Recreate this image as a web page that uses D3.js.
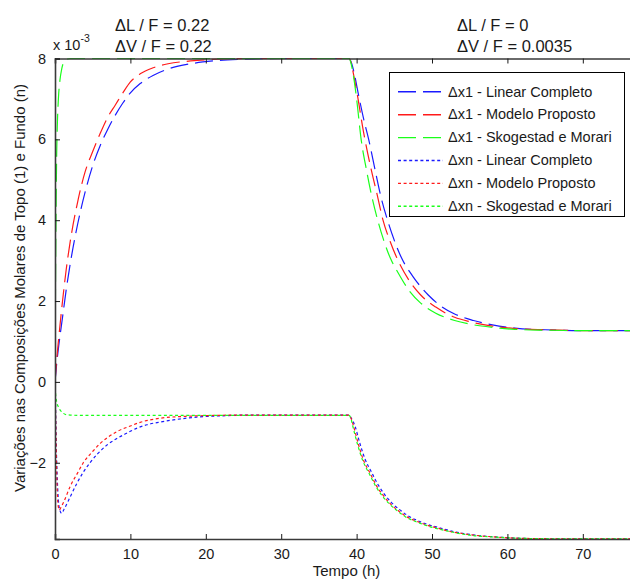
<!DOCTYPE html>
<html>
<head>
<meta charset="utf-8">
<script src="https://cdn.jsdelivr.net/npm/d3@7"></script>
<style>
  html, body { margin: 0; padding: 0; background: #fff; }
  svg { display: block; font-family: "Liberation Sans", Arial, Helvetica, sans-serif; }
</style>
</head>
<body>
<svg id="chart" width="630" height="579"></svg>
<script>
// Time (h) and composition deviations (x 10^-3), [t, value] pairs.
// Step 1 at t = 0 (ΔL/F = 0.22, ΔV/F = 0.22); step 2 at t = 39 (ΔL/F = 0, ΔV/F = 0.0035).

const x1Linear = [
  [0,0],[0.25,0.5],[0.5,0.9],[1,1.6],[1.5,2.3],[2,2.9],[3,3.9],[4,4.7],[5,5.35],[6,5.85],
  [7,6.25],[8,6.6],[9,6.9],[10,7.15],[11.3,7.38],[13,7.58],[15,7.74],[18,7.87],[21,7.94],
  [25,7.98],[30,8.0],[39,8.0],
  [39.3,7.9],[39.7,7.62],[40.2,7.15],[41,6.45],[41.6,6.0],[42.5,5.2],[43.2,4.6],[44.1,4.0],
  [45,3.5],[46,3.05],[47.5,2.6],[49.5,2.15],[51,1.9],[53,1.68],[55.5,1.52],[58,1.41],
  [61,1.33],[65,1.29],[70,1.27],[80,1.27]
];
const x1Proposto = [
  [0,0],[0.25,0.6],[0.5,1.1],[1,2.0],[1.5,2.8],[2,3.45],[3,4.45],[4,5.2],[5,5.7],[6,6.15],
  [7,6.55],[8,6.85],[9,7.15],[10,7.42],[11.3,7.62],[13,7.77],[15,7.87],[18,7.94],[21,7.98],
  [25,8.0],[39,8.0],
  [39.3,7.88],[39.6,7.6],[40.1,7.1],[40.9,6.2],[41.1,6.0],[42,5.2],[42.7,4.65],[43.5,4.0],
  [44.5,3.45],[45.5,3.0],[47,2.5],[48.5,2.15],[50.5,1.85],[53,1.6],[55,1.49],[58,1.38],
  [61,1.32],[65,1.29],[70,1.27],[80,1.27]
];
const x1Skogestad = [
  [0,0],[0.05,1.9],[0.1,3.3],[0.15,4.4],[0.22,5.6],[0.3,6.3],[0.45,7.0],[0.66,7.47],
  [0.9,7.75],[1.3,7.95],[2,8.0],[39,8.0],
  [39.3,7.85],[39.6,7.55],[40,7.0],[40.6,6.0],[41.3,5.25],[42,4.6],[42.8,4.0],[43.6,3.5],
  [44.5,3.05],[45.5,2.7],[47,2.25],[48.5,1.95],[50.5,1.7],[53,1.52],[55,1.43],[58,1.35],
  [61,1.3],[65,1.28],[70,1.27],[80,1.27]
];

const xnLinear = [
  [0,0],[0.1,-0.9],[0.2,-1.8],[0.35,-2.6],[0.55,-3.1],[0.88,-3.25],[1.2,-3.15],[2,-2.85],
  [2.9,-2.51],[3.7,-2.25],[4.6,-2.01],[5.7,-1.77],[6.9,-1.56],[8.2,-1.4],[9.5,-1.27],
  [10.8,-1.15],[12.2,-1.06],[14,-0.99],[15.7,-0.94],[18.8,-0.87],[22,-0.84],[26,-0.82],[39,-0.82],
  [39.3,-0.9],[39.8,-1.1],[40.4,-1.5],[41.1,-1.9],[42,-2.24],[42.9,-2.56],[43.7,-2.78],
  [44.6,-2.98],[45.7,-3.16],[46.8,-3.31],[48.2,-3.44],[49.5,-3.53],[51.2,-3.62],[52.6,-3.69],
  [54.2,-3.75],[55.7,-3.79],[58.8,-3.84],[62,-3.87],[66,-3.88],[80,-3.885]
];
const xnProposto = [
  [0,0],[0.1,-1.0],[0.2,-2.0],[0.3,-2.7],[0.45,-3.1],[0.57,-3.17],[0.8,-3.1],[1.2,-2.95],
  [2,-2.59],[3,-2.25],[3.75,-2.0],[5,-1.72],[6,-1.52],[7,-1.37],[8.2,-1.23],[10,-1.09],
  [11.3,-1.0],[13.9,-0.9],[17.5,-0.85],[21,-0.83],[25,-0.82],[39,-0.82],
  [39.3,-0.92],[39.6,-1.1],[40.2,-1.52],[40.9,-1.93],[41.8,-2.26],[42.7,-2.59],[43.5,-2.8],
  [44.4,-3.0],[45.5,-3.18],[46.6,-3.33],[48,-3.45],[49.3,-3.54],[51,-3.63],[52.4,-3.7],
  [54,-3.75],[55.5,-3.79],[58.6,-3.84],[62,-3.87],[66,-3.88],[80,-3.885]
];
const xnSkogestad = [
  [0,0],[0.05,-0.2],[0.22,-0.49],[0.45,-0.62],[0.66,-0.69],[1.0,-0.76],[1.33,-0.8],
  [2,-0.82],[4,-0.83],[39,-0.83],
  [39.3,-0.94],[39.5,-1.1],[40.1,-1.53],[40.8,-1.94],[41.7,-2.28],[42.6,-2.6],[43.4,-2.82],
  [44.3,-3.01],[45.4,-3.19],[46.5,-3.34],[47.9,-3.46],[49.2,-3.55],[50.9,-3.64],[52.3,-3.7],
  [53.9,-3.76],[55.4,-3.8],[58.5,-3.84],[62,-3.87],[66,-3.88],[80,-3.885]
];

const seriesNames = [
  "\u0394x1 - Linear Completo",
  "\u0394x1 - Modelo Proposto",
  "\u0394x1 - Skogestad e Morari",
  "\u0394xn - Linear Completo",
  "\u0394xn - Modelo Proposto",
  "\u0394xn - Skogestad e Morari"
];
const seriesData = [x1Linear, x1Proposto, x1Skogestad, xnLinear, xnProposto, xnSkogestad];
const seriesColors = ["#1a1aff", "#ff1a1a", "#1aff1a", "#1a1aff", "#ff1a1a", "#1aff1a"];
const seriesDash = ["18,7", "18,7", "18,7", "3,2.6", "3,2.6", "3,2.6"];

const xTicks = [0, 10, 20, 30, 40, 50, 60, 70];
const yTicks = [-2, 0, 2, 4, 6, 8];
const xDomain = [0, 77];
const yDomain = [-3.886, 8];

const svg = d3.select("#chart");
const plot = { left: 55, top: 58.5, right: 635.6, bottom: 539 };

const x = d3.scaleLinear().domain(xDomain).range([plot.left, plot.right]);
const y = d3.scaleLinear().domain(yDomain).range([plot.bottom, plot.top]);

svg.append("defs").append("clipPath").attr("id", "plotClip")
  .append("rect")
  .attr("x", plot.left).attr("y", plot.top - 1)
  .attr("width", plot.right - plot.left).attr("height", plot.bottom - plot.top + 2);

// Curves
const line = d3.line()
  .x(d => x(d[0]))
  .y(d => y(d[1]))
  .curve(d3.curveMonotoneX);

const curves = svg.append("g").attr("clip-path", "url(#plotClip)");
seriesData.forEach((data, i) => {
  curves.append("path")
    .datum(data)
    .attr("d", line)
    .attr("fill", "none")
    .attr("stroke", seriesColors[i])
    .attr("stroke-width", 1.2)
    .attr("stroke-dasharray", seriesDash[i]);
});

// Axes (ticks pointing inward, box on top)
const axisColor = "#3a3a3a";
const tickColor = "#1a1a1a";

const xAxis = svg.append("g")
  .attr("transform", `translate(0,${plot.bottom})`)
  .call(d3.axisBottom(x).tickValues(xTicks).tickSize(-5).tickPadding(10).tickFormat(d3.format("d")));
const xAxisTop = svg.append("g")
  .attr("transform", `translate(0,${plot.top})`)
  .call(d3.axisTop(x).tickValues(xTicks).tickSize(-5).tickFormat(""));
const yAxis = svg.append("g")
  .attr("transform", `translate(${plot.left},0)`)
  .call(d3.axisLeft(y).tickValues(yTicks).tickSize(-5).tickPadding(9).tickFormat(d3.format("d")));

[xAxis, xAxisTop, yAxis].forEach(g => {
  g.select(".domain").attr("stroke", axisColor).attr("stroke-width", 1.6);
  g.selectAll(".tick line").attr("stroke", tickColor).attr("stroke-width", 1);
  g.selectAll(".tick text")
    .attr("fill", "#1a1a1a")
    .style("font-size", "14.5px")
    .style("font-family", "'Liberation Sans', Arial, sans-serif");
});
xAxis.selectAll(".tick text").attr("dy", "0.71em");

// Exponent label
const expo = svg.append("text")
  .attr("x", 53).attr("y", 50)
  .attr("fill", "#1a1a1a")
  .style("font-size", "14.5px");
expo.append("tspan").text("x 10");
expo.append("tspan").attr("dy", -8).style("font-size", "10.5px").text("-3");

// Axis titles
svg.append("text")
  .attr("x", 346.5)
  .attr("y", 576)
  .attr("text-anchor", "middle")
  .attr("fill", "#1a1a1a")
  .style("font-size", "15px")
  .text("Tempo (h)");

svg.append("text")
  .attr("transform", "translate(25,288) rotate(-90)")
  .attr("text-anchor", "middle")
  .attr("fill", "#1a1a1a")
  .style("font-size", "15px")
  .text("Varia\u00e7\u00f5es nas Composi\u00e7\u00f5es Molares de Topo (1) e Fundo (n)");

// Step annotations
const notes = [
  { x: 115, lines: ["\u0394L / F = 0.22", "\u0394V / F = 0.22"] },
  { x: 457, lines: ["\u0394L / F = 0", "\u0394V / F = 0.0035"] }
];
notes.forEach(n => {
  n.lines.forEach((t, j) => {
    svg.append("text")
      .attr("x", n.x).attr("y", 31 + j * 21)
      .attr("fill", "#1a1a1a")
      .style("font-size", "16.5px")
      .text(t);
  });
});

// Legend
const legend = svg.append("g");
legend.append("rect")
  .attr("x", 389.5).attr("y", 72.5)
  .attr("width", 235).attr("height", 144)
  .attr("fill", "#fff")
  .attr("stroke", "#000")
  .attr("stroke-width", 1);
seriesNames.forEach((name, i) => {
  const yy = 91.5 + i * 22.9;
  legend.append("line")
    .attr("x1", 398).attr("x2", 443)
    .attr("y1", yy + 0.3).attr("y2", yy + 0.3)
    .attr("stroke", seriesColors[i])
    .attr("stroke-width", 1.4)
    .attr("stroke-dasharray", seriesDash[i]);
  legend.append("text")
    .attr("x", 448).attr("y", yy + 5)
    .attr("fill", "#1a1a1a")
    .style("font-size", "14.5px")
    .text(name);
});
</script>
</body>
</html>
